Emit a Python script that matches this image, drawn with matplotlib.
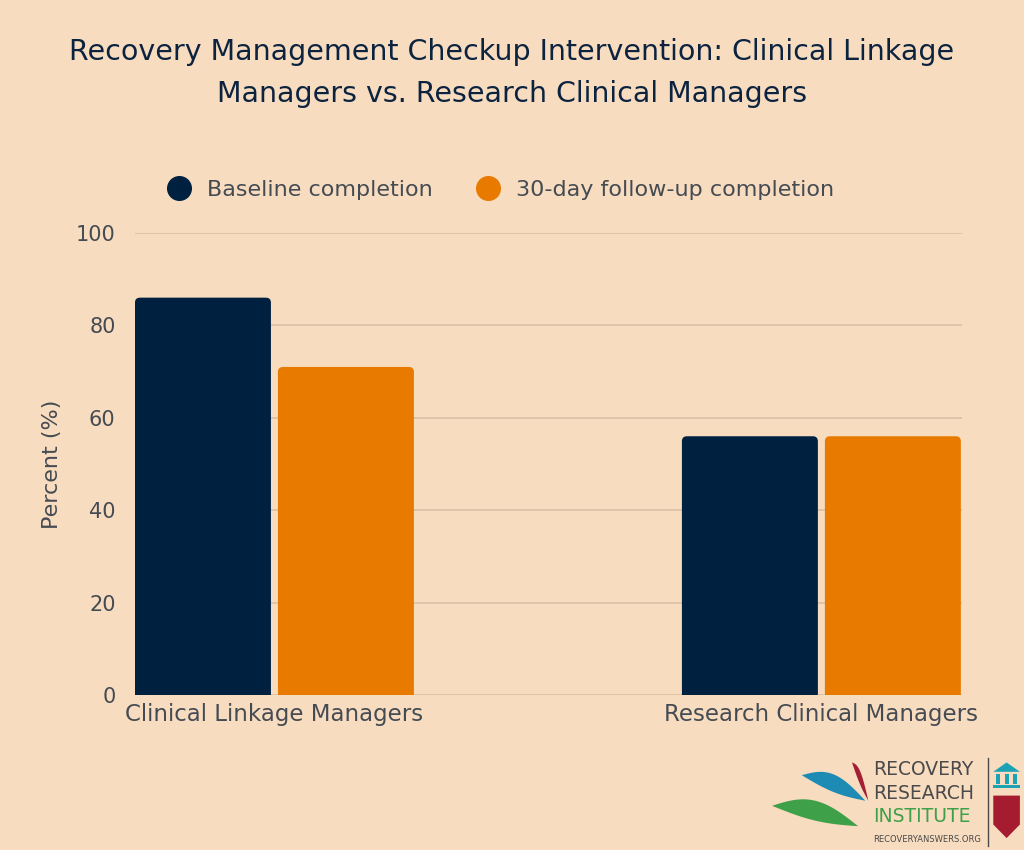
import numpy as np
import matplotlib.pyplot as plt
from matplotlib.lines import Line2D
from matplotlib.patches import Polygon, Rectangle, FancyBboxPatch

# data
groups = ['Clinical Linkage Managers', 'Research Clinical Managers']
baseline = [86, 56]
followup = [71, 56]
series_names = ['Baseline completion', '30-day follow-up completion']
yticks = [0, 20, 40, 60, 80, 100]

bg = '#F7DCC0'
navy = '#00203F'
orange = '#E87A00'
txt = '#454B52'
grid_c = '#DCC0A5'

plt.rcParams['font.family'] = ['DejaVu Sans']

fig = plt.figure(figsize=(10.24, 8.5), dpi=100, facecolor=bg)
ax = fig.add_axes([0.1318, 0.1824, 0.8076, 0.5435])
ax.set_facecolor(bg)

x = np.arange(len(groups))
w = 0.2486
off = 0.1307
b1 = ax.bar(x - off, baseline, w, color=navy, zorder=3)
b2 = ax.bar(x + off, followup, w, color=orange, zorder=3)

ax.set_xlim(-0.255, 1.257)
ax.set_ylim(0, 100)

# swap the plain bars for ones with rounded tops (bottom corners fall below 0 and are clipped)
px_x = 0.8076 * 1024 / (1.257 + 0.255)
px_y = 0.5435 * 850 / 100
r = 5 / px_x
asp = px_x / px_y
for bars in (b1, b2):
    for rect in bars:
        extra = 6 / px_y
        p = FancyBboxPatch((rect.get_x(), rect.get_y() - extra), rect.get_width(),
                           rect.get_height() + extra,
                           boxstyle='round,pad=0,rounding_size=%f' % r,
                           mutation_aspect=asp, facecolor=rect.get_facecolor(),
                           edgecolor='none', zorder=3)
        ax.add_patch(p)
        rect.set_visible(False)

ax.set_yticks(yticks)
ax.set_xticks(x)
ax.set_xticklabels(groups)
ax.yaxis.grid(True, color=grid_c, linewidth=1.2, zorder=0)
ax.tick_params(axis='y', length=0, labelsize=15, labelcolor=txt, pad=14)
ax.tick_params(axis='x', length=0, labelsize=16.5, labelcolor=txt, pad=6)
for s in ax.spines.values():
    s.set_visible(False)
ax.set_ylabel('Percent (%)', fontsize=16, color=txt, labelpad=10)

fig.text(0.5, 0.914, 'Recovery Management Checkup Intervention: Clinical Linkage\nManagers vs. Research Clinical Managers',
         ha='center', va='center', fontsize=20.5, color='#0C2340', linespacing=1.6)

handles = [Line2D([], [], marker='o', linestyle='', markersize=17, color=navy),
           Line2D([], [], marker='o', linestyle='', markersize=17, color=orange)]
leg = fig.legend(handles, series_names, loc='center', bbox_to_anchor=(0.489, 0.777),
                 ncol=2, frameon=False, fontsize=16, handletextpad=0.75,
                 columnspacing=2.0, handlelength=1.0)
for t in leg.get_texts():
    t.set_color(txt)

# logo, bottom right
fig.text(0.853, 0.095, 'RECOVERY', fontsize=13.5, color='#4A4A4A', va='center')
fig.text(0.853, 0.067, 'RESEARCH', fontsize=13.5, color='#4A4A4A', va='center')
fig.text(0.853, 0.039, 'INSTITUTE', fontsize=13.5, color='#3EA048', va='center')
fig.text(0.853, 0.012, 'RECOVERYANSWERS.ORG', fontsize=6, color='#4A4A4A', va='center')
fig.add_artist(Line2D([0.9645, 0.9645], [0.005, 0.108], color='#4A4A4A', lw=1.0))
t = np.linspace(0, 1, 30)
def leaf(x0, y0, x1, y1, bulge, color):
    xs = x0 + (x1 - x0) * t
    ys = y0 + (y1 - y0) * t
    b = bulge * np.sin(np.pi * t)
    pts = np.concatenate([np.c_[xs, ys + b], np.c_[xs[::-1], (ys - 0.3 * b)[::-1]]])
    fig.add_artist(Polygon(pts, closed=True, color=color, lw=0))
leaf(0.754, 0.052, 0.838, 0.028, 0.018, '#3EA048')
leaf(0.783, 0.088, 0.845, 0.058, 0.016, '#1E8BB5')
leaf(0.832, 0.103, 0.848, 0.058, 0.012, '#A31F34')
# building icon and shield
fig.add_artist(Polygon([[0.970, 0.092], [0.983, 0.103], [0.996, 0.092]], closed=True,
                       color='#1BA3B5', lw=0))
for cx in (0.973, 0.981, 0.989):
    fig.add_artist(Rectangle((cx, 0.078), 0.004, 0.012, color='#1BA3B5', lw=0))
fig.add_artist(Rectangle((0.970, 0.073), 0.026, 0.004, color='#1BA3B5', lw=0))
fig.add_artist(Polygon([[0.970, 0.064], [0.996, 0.064], [0.996, 0.030], [0.983, 0.014],
                        [0.970, 0.030]], closed=True, color='#A51C30', lw=0))

fig.savefig('out.png', dpi=100, facecolor=bg)
